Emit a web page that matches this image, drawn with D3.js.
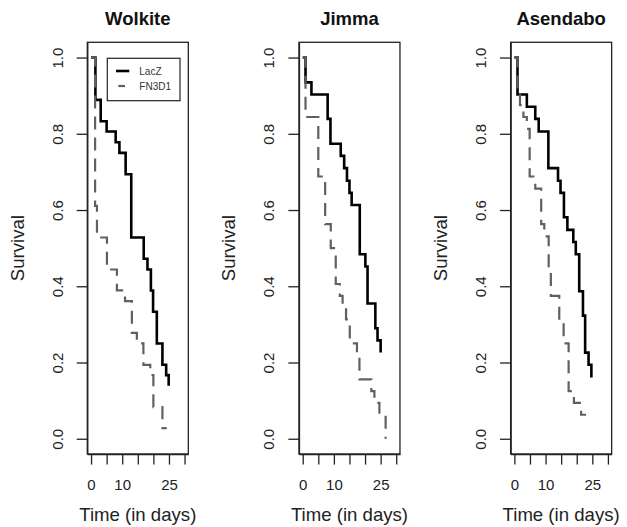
<!DOCTYPE html>
<html>
<head>
<meta charset="utf-8">
<script src="https://cdn.jsdelivr.net/npm/d3@7"></script>
<style>
  html, body { margin: 0; padding: 0; background: #ffffff; }
  svg { display: block; font-family: "Liberation Sans", Arial, Helvetica, sans-serif; }
</style>
</head>
<body>
<svg id="chart" width="627" height="527"></svg>
<script>
// Kaplan-Meier survival by site, LacZ vs FN3D1
const sites = ["Wolkite", "Jimma", "Asendabo"];
const groups = ["LacZ", "FN3D1"];
const xTicks = [0, 5, 10, 15, 20, 25, 30];
const xTickLabels = ["0", "", "10", "", "", "25", ""];
const yTicks = [0, 0.2, 0.4, 0.6, 0.8, 1.0];
const xLimits = [0, 30];

// event times (days) and survival estimate after each event
const wolkiteLacZTime = [1.4, 3.1, 5.0, 7.9, 9.1, 11.1, 12.9, 16.9, 18.1, 19.2, 19.9, 21.1, 22.9, 24.1, 24.9];
const wolkiteLacZSurv = [0.889, 0.833, 0.806, 0.778, 0.750, 0.694, 0.528, 0.472, 0.444, 0.389, 0.333, 0.250, 0.194, 0.167, 0.139];
const wolkiteFN3D1Time = [1.3, 1.9, 5.1, 8.3, 10.9, 13.1, 14.7, 16.8, 19.0, 20.0, 22.9];
const wolkiteFN3D1Surv = [0.611, 0.528, 0.444, 0.389, 0.361, 0.278, 0.250, 0.194, 0.167, 0.083, 0.028];

const jimmaLacZTime = [0.9, 2.8, 8.0, 8.9, 12.2, 13.3, 14.2, 15.0, 15.7, 18.3, 20.1, 20.8, 23.3, 24.0, 25.0];
const jimmaLacZSurv = [0.935, 0.903, 0.839, 0.774, 0.742, 0.710, 0.677, 0.645, 0.613, 0.484, 0.452, 0.355, 0.290, 0.258, 0.226];
const jimmaFN3D1Time = [0.9, 5.0, 7.2, 9.0, 10.6, 11.9, 12.8, 13.9, 15.1, 17.4, 18.2, 22.0, 23.0, 24.6, 26.6];
const jimmaFN3D1Surv = [0.844, 0.688, 0.563, 0.500, 0.406, 0.375, 0.344, 0.313, 0.250, 0.219, 0.156, 0.125, 0.094, 0.063, 0.0];

const asendaboLacZTime = [1.0, 4.0, 6.7, 7.8, 10.9, 14.0, 14.8, 15.9, 17.0, 18.9, 19.7, 20.8, 22.0, 22.7, 23.8, 24.7];
const asendaboLacZSurv = [0.903, 0.871, 0.839, 0.806, 0.710, 0.677, 0.645, 0.581, 0.548, 0.516, 0.484, 0.387, 0.323, 0.226, 0.194, 0.161];
const asendaboFN3D1Time = [1.0, 1.8, 2.9, 4.0, 4.9, 6.7, 8.6, 9.6, 11.0, 11.7, 14.4, 15.8, 17.4, 19.1, 21.4];
const asendaboFN3D1Surv = [0.906, 0.875, 0.844, 0.813, 0.688, 0.656, 0.563, 0.531, 0.438, 0.375, 0.300, 0.250, 0.125, 0.094, 0.063];

// last follow-up time of each curve (per site: LacZ, FN3D1)
const lastFollowUp = [[24.9, 24.3], [25.0, 26.6], [24.7, 23.0]];

const siteSeries = [
  [[wolkiteLacZTime, wolkiteLacZSurv], [wolkiteFN3D1Time, wolkiteFN3D1Surv]],
  [[jimmaLacZTime, jimmaLacZSurv], [jimmaFN3D1Time, jimmaFN3D1Surv]],
  [[asendaboLacZTime, asendaboLacZSurv], [asendaboFN3D1Time, asendaboFN3D1Surv]]
];

const svg = d3.select("#chart");
svg.append("rect").attr("width", 627).attr("height", 527).attr("fill", "#ffffff");

const panelStep = 211.67;
const box = { left: 87.3, right: 188.3, top: 42.3, bottom: 454 };
const font = '"Liberation Sans", Arial, Helvetica, sans-serif';
const styles = [
  { stroke: "#000000", width: 2.6, dash: null },
  { stroke: "#606060", width: 2.2, dash: "13,8" }
];

// R-style axis limits: data range padded by 4% on each side
function pad(lo, hi) { const e = (hi - lo) * 0.04; return [lo - e, hi + e]; }

function stepPoints(times, surv, end) {
  const pts = [[0, 1]];
  let prev = 1;
  times.forEach((t, i) => { pts.push([t, prev]); pts.push([t, surv[i]]); prev = surv[i]; });
  if (end > times[times.length - 1]) pts.push([end, prev]);
  return pts;
}

sites.forEach((site, i) => {
  const ox = i * panelStep;
  const x = d3.scaleLinear().domain(pad(xLimits[0], xLimits[1])).range([box.left + ox, box.right + ox]);
  const y = d3.scaleLinear().domain(pad(0, 1)).range([box.bottom, box.top]);
  const g = svg.append("g");

  // survival curves
  const line = d3.line().x(d => x(d[0])).y(d => y(d[1]));
  siteSeries[i].forEach((s, k) => {
    const st = styles[k];
    g.append("path")
      .datum(stepPoints(s[0], s[1], lastFollowUp[i][k]))
      .attr("d", line)
      .attr("fill", "none")
      .attr("stroke", st.stroke)
      .attr("stroke-width", st.width)
      .attr("stroke-dasharray", st.dash)
      .attr("stroke-linejoin", "miter")
      .attr("stroke-linecap", "butt");
  });

  // frame
  g.append("rect")
    .attr("x", box.left + ox).attr("y", box.top)
    .attr("width", box.right - box.left).attr("height", box.bottom - box.top)
    .attr("fill", "none").attr("stroke", "#222").attr("stroke-width", 1.3);

  // y axis
  const ya = g.append("g").attr("transform", `translate(${box.left + ox},0)`)
    .call(d3.axisLeft(y).tickValues(yTicks).tickSize(10.6).tickSizeOuter(0).tickFormat(d3.format(".1f")));
  ya.select(".domain").attr("stroke", "#222").attr("stroke-width", 1.3);
  ya.selectAll(".tick line").attr("stroke", "#222").attr("stroke-width", 1.3);
  ya.selectAll(".tick text")
    .attr("x", null).attr("dy", null)
    .attr("transform", "translate(-24.6,0) rotate(-90)")
    .attr("text-anchor", "middle")
    .attr("font-family", font).attr("font-size", 15).attr("fill", "#222");

  // x axis
  const xa = g.append("g").attr("transform", `translate(0,${box.bottom})`)
    .call(d3.axisBottom(x).tickValues(xTicks).tickSize(10.6).tickSizeOuter(0)
      .tickFormat((d, j) => xTickLabels[j]));
  xa.select(".domain").attr("stroke", "#222").attr("stroke-width", 1.3);
  xa.selectAll(".tick line").attr("stroke", "#222").attr("stroke-width", 1.3);
  xa.selectAll(".tick text")
    .attr("y", 35.5).attr("dy", null)
    .attr("font-family", font).attr("font-size", 15).attr("fill", "#222");

  const cx = (box.left + box.right) / 2 + ox;
  // title
  g.append("text").attr("x", cx).attr("y", 25)
    .attr("text-anchor", "middle").attr("font-weight", "bold")
    .attr("font-size", 18.5).attr("font-family", font).attr("fill", "#111")
    .text(site);
  // axis titles
  g.append("text").attr("x", cx).attr("y", 520.5)
    .attr("text-anchor", "middle").attr("font-size", 18.6).attr("font-family", font).attr("fill", "#222")
    .text("Time (in days)");
  g.append("text")
    .attr("transform", `translate(${23.5 + ox},${(box.top + box.bottom) / 2}) rotate(-90)`)
    .attr("text-anchor", "middle").attr("font-size", 18.6).attr("font-family", font).attr("fill", "#222")
    .text("Survival");

  // legend in the first panel
  if (i === 0) {
    const lg = g.append("g");
    lg.append("rect").attr("x", 107.3).attr("y", 58.3).attr("width", 72.7).attr("height", 42.4)
      .attr("fill", "#ffffff").attr("stroke", "#222").attr("stroke-width", 1.2);
    const rows = [71, 86];
    groups.forEach((grp, k) => {
      const st = styles[k];
      if (k === 0) {
        lg.append("line").attr("x1", 116).attr("x2", 129.3).attr("y1", rows[k]).attr("y2", rows[k])
          .attr("stroke", st.stroke).attr("stroke-width", st.width);
      } else {
        lg.append("line").attr("x1", 118.3).attr("x2", 125).attr("y1", rows[k]).attr("y2", rows[k])
          .attr("stroke", st.stroke).attr("stroke-width", st.width);
      }
      lg.append("text").attr("x", 139.3).attr("y", rows[k] + 3.6)
        .attr("font-size", 10).attr("font-family", font).attr("fill", "#333")
        .text(grp);
    });
  }
});
</script>
</body>
</html>
